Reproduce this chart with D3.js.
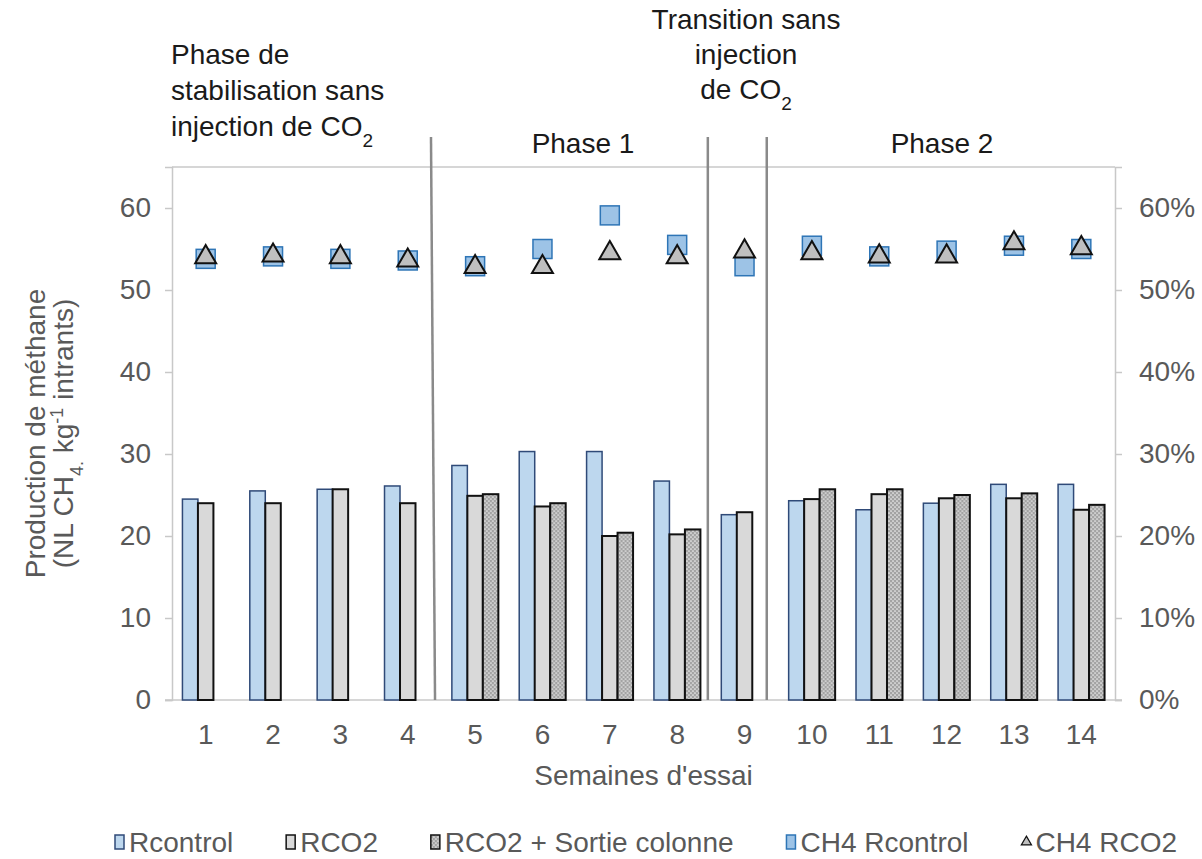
<!DOCTYPE html>
<html>
<head>
<meta charset="utf-8">
<script src="https://cdn.jsdelivr.net/npm/d3@7"></script>
<style>
  body { margin: 0; background: #fff; }
  svg { display: block; font-family: "Liberation Sans", Arial, sans-serif; }
</style>
</head>
<body>
<div id="chart"></div>
<script>
// data
const weeks = ['1', '2', '3', '4', '5', '6', '7', '8', '9', '10', '11', '12', '13', '14']
const rcontrol = [24.5, 25.5, 25.7, 26.1, 28.6, 30.3, 30.3, 26.7, 22.6, 24.3, 23.2, 24.0, 26.3, 26.3]
const rco2 = [24.0, 24.0, 25.7, 24.0, 24.9, 23.6, 20.0, 20.2, 22.9, 24.5, 25.1, 24.6, 24.6, 23.2]
const rco2Colonne = [null, null, null, null, 25.1, 24.0, 20.4, 20.8, null, 25.7, 25.7, 25.0, 25.2, 23.8]
const ch4Rcontrol = [0.538, 0.541, 0.538, 0.536, 0.529, 0.550, 0.591, 0.555, 0.529, 0.554, 0.541, 0.548, 0.554, 0.550]
const ch4Rco2 = [0.540, 0.542, 0.540, 0.536, 0.528, 0.528, 0.545, 0.540, 0.547, 0.545, 0.541, 0.541, 0.557, 0.551]
const yTicks = [0, 10, 20, 30, 40, 50, 60]
const y2Ticks = [0, 0.1, 0.2, 0.3, 0.4, 0.5, 0.6]
const barSeries = ['Rcontrol', 'RCO2', 'RCO2 + Sortie colonne']
// phase separators, in week units from the left edge of the axis
const separators = [[3.845, 3.905], [7.955, 7.955], [8.83, 8.83]]

const width = 1202
const height = 859
const margin = { top: 167, right: 87, bottom: 159, left: 172 }
const grey = '#595959'
const fs = '28px'

const svg = d3.select('#chart').append('svg')
  .attr('width', width).attr('height', height)

const defs = svg.append('defs')
const pat = defs.append('pattern')
  .attr('id', 'dots').attr('patternUnits', 'userSpaceOnUse')
  .attr('width', 4).attr('height', 4)
pat.append('rect').attr('width', 4).attr('height', 4).attr('fill', '#a3a3a3')
pat.append('circle').attr('cx', 1).attr('cy', 1).attr('r', 0.85).attr('fill', '#f0f0f0')
pat.append('circle').attr('cx', 3).attr('cy', 3).attr('r', 0.85).attr('fill', '#f0f0f0')

const x0 = d3.scaleBand().domain(weeks)
  .range([margin.left, width - margin.right])
  .paddingInner(0.31).paddingOuter(0.155)
const x1 = d3.scaleBand().domain(barSeries).range([0, x0.bandwidth()])
const xw = d3.scaleLinear().domain([0, weeks.length]).range([margin.left, width - margin.right])
const y = d3.scaleLinear().domain([0, 65]).range([height - margin.bottom, margin.top])
const y2 = d3.scaleLinear().domain([0, 0.65]).range([height - margin.bottom, margin.top])

const styles = {
  'Rcontrol': { fill: '#bdd7ee', stroke: '#2f4a78', sw: 1.5 },
  'RCO2': { fill: '#d9d9d9', stroke: '#111', sw: 2 },
  'RCO2 + Sortie colonne': { fill: 'url(#dots)', stroke: '#111', sw: 2 }
}

// plot frame
svg.append('line')
  .attr('x1', margin.left).attr('x2', width - margin.right)
  .attr('y1', margin.top).attr('y2', margin.top)
  .attr('stroke', '#c8c8c8').attr('stroke-width', 1.5)

// axes
const yAxis = svg.append('g')
  .attr('transform', `translate(${margin.left},0)`)
  .call(d3.axisLeft(y).tickValues(yTicks).tickSize(7).tickPadding(14))
const y2Axis = svg.append('g')
  .attr('transform', `translate(${width - margin.right},0)`)
  .call(d3.axisRight(y2).tickValues(y2Ticks).tickSize(7).tickPadding(17).tickFormat(d3.format('.0%')))
const xAxis = svg.append('g')
  .attr('transform', `translate(0,${height - margin.bottom})`)
  .call(d3.axisBottom(x0).tickSize(0).tickPadding(24))

for (let ax of [yAxis, y2Axis, xAxis]) {
  ax.select('.domain').attr('stroke', '#c8c8c8').attr('stroke-width', 1.5)
  ax.selectAll('.tick line').attr('stroke', '#c8c8c8').attr('stroke-width', 1.5)
  ax.selectAll('text').attr('fill', grey).style('font-size', fs)
    .style('font-family', '"Liberation Sans", Arial, sans-serif')
}
xAxis.select('.domain').attr('d', `M${margin.left - 7},0H${width - margin.right + 7}`)

// bars
const rows = weeks.map((w, i) => ({ w, vals: [rcontrol[i], rco2[i], rco2Colonne[i]] }))
const groups = svg.append('g').selectAll('g')
  .data(rows).join('g')
  .attr('transform', d => `translate(${x0(d.w)},0)`)
groups.selectAll('rect')
  .data(d => barSeries.map((s, k) => ({ s, v: d.vals[k] })).filter(d => d.v != null))
  .join('rect')
  .attr('x', d => x1(d.s))
  .attr('y', d => y(d.v))
  .attr('width', x1.bandwidth())
  .attr('height', d => y(0) - y(d.v))
  .attr('fill', d => styles[d.s].fill)
  .attr('stroke', d => styles[d.s].stroke)
  .attr('stroke-width', d => styles[d.s].sw)

// phase separators
svg.append('g').selectAll('line')
  .data(separators).join('line')
  .attr('x1', d => xw(d[0])).attr('x2', d => xw(d[1]))
  .attr('y1', 137).attr('y2', y(0))
  .attr('stroke', '#8a8a8a').attr('stroke-width', 2.5)

// CH4 markers
const cx = w => x0(w) + x0.bandwidth() / 2
const sq = 19
svg.append('g').selectAll('rect')
  .data(weeks.map((w, i) => ({ w, v: ch4Rcontrol[i] }))).join('rect')
  .attr('x', d => cx(d.w) - sq / 2)
  .attr('y', d => y2(d.v) - sq / 2)
  .attr('width', sq).attr('height', sq)
  .attr('fill', '#9dc3e6').attr('stroke', '#2e75b6').attr('stroke-width', 1.5)

const tri = d3.symbol().type(d3.symbolTriangle).size(190)
svg.append('g').selectAll('path')
  .data(weeks.map((w, i) => ({ w, v: ch4Rco2[i] }))).join('path')
  .attr('d', tri)
  .attr('transform', d => `translate(${cx(d.w)},${y2(d.v)})`)
  .attr('fill', '#bfbfbf').attr('stroke', '#111').attr('stroke-width', 2)
  .attr('stroke-linejoin', 'miter')

// axis titles
const ytitle = svg.append('text')
  .attr('transform', `translate(35,${(margin.top + y(0)) / 2}) rotate(-90)`)
  .attr('text-anchor', 'middle').attr('fill', grey).style('font-size', fs)
ytitle.append('tspan').attr('x', 0).attr('dy', '0.35em').text('Production de méthane')
const yt2 = ytitle.append('tspan').attr('x', 0).attr('dy', '1.0em')
yt2.append('tspan').text('(NL CH')
yt2.append('tspan').attr('baseline-shift', 'sub').style('font-size', '18px').text('4.')
yt2.append('tspan').text(' kg')
yt2.append('tspan').attr('baseline-shift', 'super').style('font-size', '18px').text('-1')
yt2.append('tspan').text(' intrants)')

svg.append('text')
  .attr('x', (margin.left + width - margin.right) / 2).attr('y', 785)
  .attr('text-anchor', 'middle').attr('fill', grey).style('font-size', fs)
  .text("Semaines d'essai")

// phase annotations
function co2Line(sel) {
  sel.append('tspan').text('CO')
  sel.append('tspan').attr('baseline-shift', 'sub').style('font-size', '19px').text('2')
}
const ann = svg.append('g').attr('fill', '#1a1a1a').style('font-size', fs)
const a1 = ann.append('text').attr('x', 171)
a1.append('tspan').attr('x', 171).attr('y', 64).text('Phase de')
a1.append('tspan').attr('x', 171).attr('y', 100).text('stabilisation sans')
a1.append('tspan').attr('x', 171).attr('y', 136).text('injection de ').call(co2Line)

const a2 = ann.append('text').attr('text-anchor', 'middle')
a2.append('tspan').attr('x', 746).attr('y', 29).text('Transition sans')
a2.append('tspan').attr('x', 746).attr('y', 64).text('injection')
a2.append('tspan').attr('x', 746).attr('y', 99).text('de ').call(co2Line)

ann.append('text').attr('x', 583).attr('y', 153).attr('text-anchor', 'middle').text('Phase 1')
ann.append('text').attr('x', 942).attr('y', 153).attr('text-anchor', 'middle').text('Phase 2')

// legend
const legendItems = [
  { label: 'Rcontrol', kind: 'bar', st: styles['Rcontrol'] },
  { label: 'RCO2', kind: 'bar', st: styles['RCO2'] },
  { label: 'RCO2 + Sortie colonne', kind: 'bar', st: styles['RCO2 + Sortie colonne'] },
  { label: 'CH4 Rcontrol', kind: 'square' },
  { label: 'CH4 RCO2', kind: 'tri' }
]
const legend = svg.append('g').attr('transform', 'translate(0,842)')
const items = legendItems.map(it => {
  const g = legend.append('g')
  if (it.kind === 'bar') {
    g.append('rect').attr('x', 0).attr('y', -7).attr('width', 9).attr('height', 14)
      .attr('fill', it.st.fill).attr('stroke', it.st.stroke).attr('stroke-width', 1.5)
  } else if (it.kind === 'square') {
    g.append('rect').attr('x', 0).attr('y', -7).attr('width', 9).attr('height', 14)
      .attr('fill', '#9dc3e6').attr('stroke', '#2e75b6').attr('stroke-width', 1.5)
  } else {
    g.append('path').attr('d', d3.symbol().type(d3.symbolTriangle).size(45))
      .attr('transform', 'translate(5,0)')
      .attr('fill', '#bfbfbf').attr('stroke', '#111').attr('stroke-width', 1.2)
  }
  const t = g.append('text').attr('x', 14).attr('dy', '0.35em')
    .attr('fill', grey).style('font-size', fs).text(it.label)
  return { g, w: 14 + t.node().getComputedTextLength() }
})
// spread the items between the same left and right edges as the original
const lx0 = 115, lx1 = 1177
const gap = (lx1 - lx0 - d3.sum(items, d => d.w)) / (items.length - 1)
let lx = lx0
for (let it of items) {
  it.g.attr('transform', `translate(${lx},0)`)
  lx += it.w + gap
}
</script>
</body>
</html>
